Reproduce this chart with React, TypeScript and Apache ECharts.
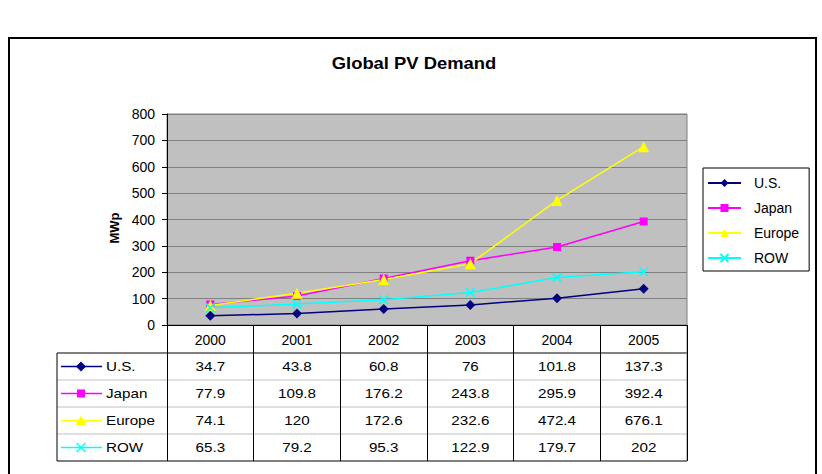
import React, { useEffect, useRef } from "react";
import * as echarts from "echarts";

// Yearly PV demand in MWp by region
const years = ["2000", "2001", "2002", "2003", "2004", "2005"];
const usValues = [34.7, 43.8, 60.8, 76, 101.8, 137.3];
const japanValues = [77.9, 109.8, 176.2, 243.8, 295.9, 392.4];
const europeValues = [74.1, 120, 172.6, 232.6, 472.4, 676.1];
const rowValues = [65.3, 79.2, 95.3, 122.9, 179.7, 202];

const seriesNames = ["U.S.", "Japan", "Europe", "ROW"];
const seriesValues = [usValues, japanValues, europeValues, rowValues];
const seriesColors = ["#000080", "#FF00FF", "#FFFF00", "#00FFFF"];

const yMin = 0;
const yMax = 800;
const yStep = 100;

const FONT = '"Liberation Sans", Arial, Helvetica, sans-serif';
const WIDE = 1.17; // horizontal stretch applied to the drawn texts

// layout
const W = 822;
const H = 474;
const PLOT_L = 167;
const PLOT_R = 687;
const PLOT_T = 114;
const PLOT_B = 325;
const TABLE_L = 57;
const HEADER_H = 28;
const ROW_H = 27;

const X_SYMBOL = "path://M0,0L10,10M10,0L0,10";
const symbols = ["diamond", "rect", "triangle", X_SYMBOL];
const symbolSizes = [10, 8, 11, 9];

function keyMarker(i: number, cx: number, cy: number): any[] {
  const c = seriesColors[i];
  if (i === 0) {
    return [{ type: "polygon", shape: { points: [[cx, cy - 5], [cx + 5, cy], [cx, cy + 5], [cx - 5, cy]] }, style: { fill: c } }];
  }
  if (i === 1) {
    return [{ type: "rect", shape: { x: cx - 4, y: cy - 4, width: 8, height: 8 }, style: { fill: c } }];
  }
  if (i === 2) {
    return [{ type: "polygon", shape: { points: [[cx, cy - 5], [cx + 5.5, cy + 4.5], [cx - 5.5, cy + 4.5]] }, style: { fill: c } }];
  }
  return [
    { type: "line", shape: { x1: cx - 4.5, y1: cy - 4.5, x2: cx + 4.5, y2: cy + 4.5 }, style: { stroke: c, lineWidth: 1.5 } },
    { type: "line", shape: { x1: cx + 4.5, y1: cy - 4.5, x2: cx - 4.5, y2: cy + 4.5 }, style: { stroke: c, lineWidth: 1.5 } },
  ];
}

export default function App() {
  const ref = useRef<HTMLDivElement>(null);

  useEffect(() => {
    if (!ref.current) return;
    const chart = echarts.init(ref.current, null, { renderer: "svg" });

    const series = seriesNames.map((name, i) => ({
      name,
      type: "line",
      data: seriesValues[i],
      symbol: symbols[i],
      symbolSize: symbolSizes[i],
      showAllSymbol: true,
      lineStyle: { color: seriesColors[i], width: 1.5 },
      itemStyle:
        i === 3
          ? { color: seriesColors[i], borderColor: seriesColors[i], borderWidth: 1.5 }
          : { color: seriesColors[i], borderWidth: 0 },
      emphasis: { disabled: true },
    }));

    chart.setOption({
      animation: false,
      backgroundColor: "#FFFFFF",
      grid: {
        left: PLOT_L,
        right: W - PLOT_R,
        top: PLOT_T,
        bottom: H - PLOT_B,
        show: true,
        backgroundColor: "#C0C0C0",
        borderColor: "#808080",
        borderWidth: 1,
      },
      legend: {
        orient: "vertical",
        left: 703,
        top: 168,
        itemWidth: 33,
        itemHeight: 10,
        itemGap: 11,
        padding: [8, 10, 6, 4],
        borderColor: "#000000",
        borderWidth: 1,
        selectedMode: false,
        data: seriesNames,
        textStyle: { fontFamily: FONT, fontSize: 14, color: "#000", padding: [0, 0, 0, 8] },
      },
      xAxis: {
        type: "category",
        data: years,
        boundaryGap: true,
        axisLine: { lineStyle: { color: "#000", width: 1 } },
        axisTick: {
          show: true,
          length: HEADER_H + ROW_H * seriesNames.length,
          lineStyle: { color: "#000", width: 1 },
        },
        axisLabel: { fontFamily: FONT, fontSize: 14, color: "#000", margin: 8 },
        splitLine: { show: false },
      },
      yAxis: {
        type: "value",
        min: yMin,
        max: yMax,
        interval: yStep,
        name: "MWp",
        nameLocation: "middle",
        nameRotate: 90,
        nameGap: 42,
        nameTextStyle: { fontFamily: FONT, fontSize: 13, fontWeight: "bold", color: "#000", padding: [0, 17, 0, 0] },
        axisLine: { show: true, lineStyle: { color: "#000", width: 1 } },
        axisTick: { show: true, length: 5, lineStyle: { color: "#000" } },
        axisLabel: { fontFamily: FONT, fontSize: 14, color: "#000", margin: 12 },
        splitLine: { show: true, lineStyle: { color: "#808080", width: 1 } },
      },
      series,
    });

    // data table underneath the plot, columns follow the category axis
    const centers = years.map((y) => chart.convertToPixel({ xAxisIndex: 0 }, y) as number);
    const half = (centers[1] - centers[0]) / 2;
    const right = centers[centers.length - 1] + half;
    const rowTop = PLOT_B + HEADER_H;
    const nRows = seriesNames.length;

    const elements: any[] = [];

    elements.push({
      type: "rect",
      shape: { x: 9, y: 38, width: 807, height: 460 },
      style: { fill: "none", stroke: "#000", lineWidth: 2 },
      silent: true,
    });

    elements.push({
      type: "text",
      x: W / 2 + 3,
      y: 63,
      scaleX: 1.15,
      style: {
        text: "Global PV Demand",
        fontFamily: FONT,
        fontSize: 16,
        fontWeight: "bold",
        fill: "#000",
        align: "center",
        verticalAlign: "middle",
      },
    });

    for (let r = 0; r <= nRows; r++) {
      const y = rowTop + r * ROW_H;
      const edge = r === 0 || r === nRows;
      elements.push({
        type: "line",
        shape: { x1: TABLE_L, y1: y, x2: right, y2: y },
        style: { stroke: edge ? "#000" : "#C0C0C0", lineWidth: 1 },
      });
    }
    elements.push({
      type: "line",
      shape: { x1: TABLE_L, y1: rowTop, x2: TABLE_L, y2: rowTop + nRows * ROW_H },
      style: { stroke: "#000", lineWidth: 1 },
    });
    elements.push({
      type: "line",
      shape: { x1: right, y1: PLOT_B, x2: right, y2: rowTop + nRows * ROW_H },
      style: { stroke: "#808080", lineWidth: 1 },
    });

    seriesNames.forEach((name, i) => {
      const cy = rowTop + i * ROW_H + ROW_H / 2;
      elements.push({
        type: "line",
        shape: { x1: 61, y1: cy, x2: 102, y2: cy },
        style: { stroke: seriesColors[i], lineWidth: 1.5 },
      });
      keyMarker(i, 81, cy).forEach((m) => elements.push(m));
      elements.push({
        type: "text",
        x: 106,
        y: cy,
        scaleX: WIDE,
        style: { text: name, fontFamily: FONT, fontSize: 13, fill: "#000", align: "left", verticalAlign: "middle" },
      });
      seriesValues[i].forEach((v, j) => {
        elements.push({
          type: "text",
          x: centers[j],
          y: cy,
          scaleX: WIDE,
          style: { text: String(v), fontFamily: FONT, fontSize: 13, fill: "#000", align: "center", verticalAlign: "middle" },
        });
      });
    });

    chart.setOption({ graphic: { elements } });

    return () => chart.dispose();
  }, []);

  return (
    <div
      ref={ref}
      style={{ position: "fixed", left: 0, top: 0, width: W, height: H, background: "#fff" }}
    />
  );
}
